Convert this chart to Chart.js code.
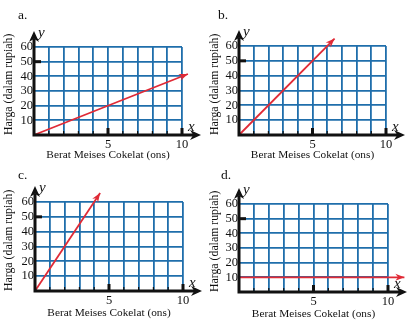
<!DOCTYPE html>
<html lang="en">
<head>
  <meta charset="UTF-8" />
  <title>Harga Meises Cokelat</title>
  <style>
    html, body { margin: 0; padding: 0; background: #fff; }
    .sheet { position: relative; width: 413px; height: 322px; }
    .panel { position: absolute; }
    canvas { display: block; }
  </style>
  <script src="https://cdn.jsdelivr.net/npm/chart.js"></script>
</head>
<body>
  <div class="sheet">
    <div class="panel" style="left:0;top:0"><canvas id="c0" width="206" height="161"></canvas></div>
    <div class="panel" style="left:206px;top:0"><canvas id="c1" width="207" height="161"></canvas></div>
    <div class="panel" style="left:0;top:161px"><canvas id="c2" width="206" height="161"></canvas></div>
    <div class="panel" style="left:206px;top:161px"><canvas id="c3" width="207" height="161"></canvas></div>
  </div>
  <script>
    const panelNames = ['a.', 'b.', 'c.', 'd.'];
    const xTickShown = [5, 10];
    const yTickShown = [10, 20, 30, 40, 50, 60];

    // weight (ons) and price points of each red line, last point is the arrow tip
    const weightA = [0, 10.4];
    const priceA = [0, 41.6];
    const weightB = [0, 6.5];
    const priceB = [0, 65];
    const weightC = [0, 4.4];
    const priceC = [0, 66];
    const weightD = [0, 11.1];
    const priceD = [10, 10];

    const weights = [weightA, weightB, weightC, weightD];
    const prices = [priceA, priceB, priceC, priceD];

    // plot box of each panel inside its canvas
    const frames = [
      { w: 206, h: 161, left: 34, top: 47, right: 182, bottom: 135, padB: 0,   nx: 18, ny: 19 },
      { w: 207, h: 161, left: 33, top: 46, right: 180, bottom: 135, padB: 0.5, nx: 12, ny: 19 },
      { w: 206, h: 161, left: 35, top: 41, right: 183, bottom: 130, padB: 3.5, nx: 18, ny: 18 },
      { w: 207, h: 161, left: 33, top: 43, right: 182, bottom: 131, padB: 2.5, nx: 15, ny: 18 }
    ];

    const RED = '#e02a36';
    const BLUE = '#1f6eab';
    const INK = '#111';
    const SERIF = '"Liberation Serif", "DejaVu Serif", serif';

    Chart.defaults.font.family = SERIF;
    Chart.defaults.color = INK;

    function arrow(ctx, tx, ty, ang, color, len, half) {
      ctx.save();
      ctx.translate(tx, ty);
      ctx.rotate(ang);
      ctx.fillStyle = color;
      ctx.beginPath();
      ctx.moveTo(0, 0);
      ctx.lineTo(-len, -half);
      ctx.lineTo(-len * 0.7, 0);
      ctx.lineTo(-len, half);
      ctx.closePath();
      ctx.fill();
      ctx.restore();
    }

    const decor = {
      id: 'decor',
      afterDatasetsDraw(chart, args, opts) {
        const { ctx, chartArea: a, scales: { x, y } } = chart;
        ctx.save();
        ctx.fillStyle = INK;
        // little ticks standing on the x axis
        for (let v = 1; v <= 10; v++) {
          const px = x.getPixelForValue(v);
          const big = v % 5 === 0;
          ctx.fillRect(px - (big ? 1.5 : 0.6), a.bottom - (big ? 7 : 4), big ? 3 : 1.2, big ? 7 : 4);
        }
        const p50 = y.getPixelForValue(50);
        ctx.fillRect(a.left, p50 - 1.5, 7, 3);

        // axes
        ctx.strokeStyle = INK;
        ctx.lineWidth = 3;
        ctx.beginPath();
        ctx.moveTo(a.left, a.bottom + 1.5);
        ctx.lineTo(a.left, a.top - 8);
        ctx.moveTo(a.left - 1.5, a.bottom);
        ctx.lineTo(a.right + 12, a.bottom);
        ctx.stroke();
        arrow(ctx, a.left, a.top - 16, -Math.PI / 2, INK, 11, 5);
        arrow(ctx, a.right + 19, a.bottom, 0, INK, 11, 5);

        // red arrow head at the end of the line
        const pts = chart.getDatasetMeta(0).data;
        const p0 = pts[pts.length - 2], p1 = pts[pts.length - 1];
        arrow(ctx, p1.x, p1.y, Math.atan2(p1.y - p0.y, p1.x - p0.x), RED, 9, 3.5);

        ctx.fillStyle = INK;
        ctx.font = 'italic 15px ' + SERIF;
        ctx.textBaseline = 'alphabetic';
        ctx.fillText('y', a.left + 4, a.top - 10);
        ctx.fillText('x', a.right + 6, a.bottom - 4);
        ctx.font = '13.5px ' + SERIF;
        ctx.fillText(opts.name, opts.nx, opts.ny);
        ctx.restore();
      }
    };

    frames.forEach((f, i) => {
      const points = weights[i].map((w, k) => ({ x: w, y: prices[i][k] }));
      new Chart(document.getElementById('c' + i), {
        type: 'scatter',
        data: {
          datasets: [{
            data: points,
            showLine: true,
            borderColor: RED,
            borderWidth: 1.8,
            pointRadius: 0,
            clip: false
          }]
        },
        options: {
          responsive: false,
          animation: false,
          devicePixelRatio: 1,
          layout: { padding: { left: 0, top: f.top, right: f.w - f.right, bottom: f.padB } },
          plugins: {
            legend: { display: false },
            tooltip: { enabled: false },
            decor: { name: panelNames[i], nx: f.nx, ny: f.ny }
          },
          scales: {
            x: {
              type: 'linear',
              min: 0,
              max: 10,
              afterFit: s => { s.height = f.h - f.padB - f.bottom; },
              ticks: {
                stepSize: 1,
                autoSkip: false,
                maxRotation: 0,
                padding: 2,
                font: { size: 12.5 },
                callback: v => xTickShown.includes(v) ? String(v) : ''
              },
              grid: { color: BLUE, lineWidth: 1.8, drawTicks: false },
              border: { display: false },
              title: {
                display: true,
                text: 'Berat Meises Cokelat (ons)',
                font: { size: 11.3, lineHeight: 1 },
                padding: 0
              }
            },
            y: {
              type: 'linear',
              min: 0,
              max: 60,
              afterFit: s => { s.width = f.left; },
              ticks: {
                stepSize: 10,
                autoSkip: false,
                padding: 1,
                font: { size: 12.5 },
                callback: v => yTickShown.includes(v) ? String(v) : ''
              },
              grid: { color: BLUE, lineWidth: 1.8, drawTicks: false },
              border: { display: false },
              title: {
                display: true,
                text: 'Harga (dalam rupiah)',
                align: 'start',
                font: { size: 11.8 },
                padding: { top: 2, bottom: 0 }
              }
            }
          }
        },
        plugins: [decor]
      });
    });
  </script>
</body>
</html>
